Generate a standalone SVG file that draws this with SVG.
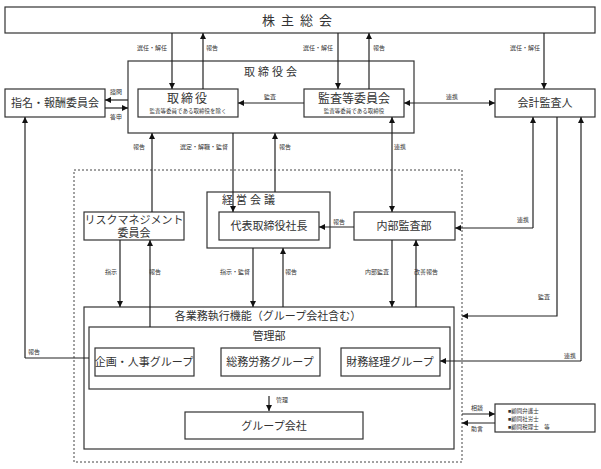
<svg xmlns="http://www.w3.org/2000/svg" width="601" height="469" viewBox="0 0 601 469">
<style>
.b{fill:#fff;stroke:#333;stroke-width:1.2}
.l{stroke:#222;stroke-width:1.2;fill:none}
.e{marker-end:url(#a)}
text{font-family:"Liberation Serif","Noto Sans CJK JP",serif;fill:#333;text-anchor:middle}
.t{font-size:12px}.m{font-size:11px}.s{font-size:6px}.x{font-size:5.5px}
</style>
<defs>
<marker id="a" viewBox="0 0 8 8" refX="8" refY="4" markerUnits="userSpaceOnUse" markerWidth="6" markerHeight="6" orient="auto-start-reverse"><path d="M0,0L8,4L0,8z" style="fill:#111;stroke:none"/></marker>
</defs>
<rect width="601" height="469" fill="#fff"/>
<g id="sh"><rect class="b" x="5" y="7" width="590" height="26"/><text x="300" y="25" style="font-size:13px;letter-spacing:6px">株主総会</text></g>
<g id="bod"><rect class="b" x="128" y="61" width="286" height="72"/><text class="m" x="272" y="76" style="letter-spacing:3px">取締役会</text></g>
<g id="dir"><rect class="b" x="138" y="89" width="100" height="28"/><text class="t" x="188" y="103" style="letter-spacing:2px">取締役</text><text class="x" x="188" y="113">監査等委員である取締役を除く</text></g>
<g id="ac"><rect class="b" x="304" y="89" width="100" height="28"/><text class="t" x="354" y="103">監査等委員会</text><text class="x" x="354" y="113">監査等委員である取締役</text></g>
<g id="nom"><rect class="b" x="5" y="89" width="100" height="28"/><text class="m" x="55" y="107">指名・報酬委員会</text></g>
<g id="aud"><rect class="b" x="495" y="89" width="100" height="28"/><text class="m" x="545" y="107">会計監査人</text></g>
<rect x="74" y="170" width="388" height="292" fill="none" stroke="#444" stroke-dasharray="2,2"/>
<g id="keiei"><rect class="b" x="207" y="192" width="123" height="56"/><text class="m" x="250" y="204" style="letter-spacing:3px">経営会議</text></g>
<g id="pres"><rect class="b" x="219" y="212" width="100" height="28"/><text class="m" x="269" y="230">代表取締役社長</text></g>
<g id="risk"><rect class="b" x="84" y="212" width="100" height="28"/><text class="m" x="134" y="224">リスクマネジメント</text><text class="m" x="134" y="237">委員会</text></g>
<g id="ia"><rect class="b" x="354" y="212" width="101" height="28"/><text class="m" x="404" y="230">内部監査部</text></g>
<g id="exec"><rect class="b" x="84" y="307" width="370" height="142"/><text class="m" x="268" y="320">各業務執行機能（グループ会社含む）</text></g>
<g id="kanri"><rect class="b" x="89" y="327" width="361" height="62"/><text class="m" x="269" y="340">管理部</text></g>
<g id="g1"><rect class="b" x="95" y="348" width="99" height="28"/><text class="m" x="144" y="366">企画・人事グループ</text></g>
<g id="g2"><rect class="b" x="221" y="348" width="99" height="28"/><text class="m" x="270" y="366">総務労務グループ</text></g>
<g id="g3"><rect class="b" x="341" y="348" width="99" height="28"/><text class="m" x="390" y="366">財務経理グループ</text></g>
<g id="grp"><rect class="b" x="185" y="412" width="178" height="27"/><text class="m" x="274" y="430">グループ会社</text></g>
<g id="adv"><rect class="b" x="495" y="404" width="100" height="28"/><text class="x" x="508" y="413" style="text-anchor:start">■顧問弁護士</text><text class="x" x="508" y="421" style="text-anchor:start">■顧問社労士</text><text class="x" x="508" y="429" style="text-anchor:start">■顧問税理士　等</text></g>
<g id="conn">
<path class="l e" d="M172,33V89"/><path class="l e" d="M338,33V89"/><path class="l e" d="M544,33V89"/>
<path class="l e" d="M304,103H238"/><path class="l e" d="M128,100H105"/><path class="l e" d="M105,108H128"/>
<path class="l e" d="M233,133V212"/><path class="l e" d="M120,240V307"/><path class="l e" d="M253,248V307"/>
<path class="l e" d="M392,240V307"/><path class="l e" d="M462,414H495"/><path class="l e" d="M269,396V411"/>
<path class="l e" d="M533,228H455"/>
<path class="l e" d="M203,89V33"/><path class="l e" d="M369,89V33"/><path class="l e" d="M152,212V133"/>
<path class="l e" d="M275,192V133"/><path class="l e" d="M150,327V240"/><path class="l e" d="M283,307V248"/>
<path class="l e" d="M416,307V240"/><path class="l e" d="M354,227H319"/><path class="l e" d="M495,423H462"/>
<path class="l e" d="M25,358V117"/><path class="l e" d="M533,228V117"/><path class="l e" d="M581,361V117"/>
<path class="l" d="M25,358H89"/>
<path class="l e" d="M581,361H440"/>
<path class="l e" d="M557,117V316H462"/>
<path class="l" d="M404,103H495" marker-start="url(#a)" marker-end="url(#a)"/>
<path class="l" d="M392,117V212" marker-start="url(#a)" marker-end="url(#a)"/>
</g>
<g id="labels" class="s">
<text x="152" y="50">選任・解任</text><text x="212" y="50">報告</text>
<text x="318" y="50">選任・解任</text><text x="379" y="50">報告</text>
<text x="525" y="50">選任・解任</text>
<text x="116" y="94">諮問</text><text x="116" y="119">答申</text>
<text x="270" y="99">監査</text><text x="452" y="99">連携</text>
<text x="139" y="149">報告</text><text x="204" y="149">選定・解職・監督</text><text x="285" y="149">報告</text><text x="400" y="149">連携</text>
<text x="339" y="224">報告</text><text x="523" y="222">連携</text>
<text x="111" y="274">指示</text><text x="155" y="274">報告</text><text x="235" y="274">指示・監督</text><text x="291" y="274">報告</text><text x="377" y="274">内部監査</text><text x="426" y="274">改善報告</text>
<text x="544" y="299">監査</text>
<text x="34" y="354">報告</text><text x="570" y="358">連携</text>
<text x="282" y="402">管理</text>
<text x="477" y="410">相談</text><text x="477" y="431">助言</text>
</g>
</svg>
